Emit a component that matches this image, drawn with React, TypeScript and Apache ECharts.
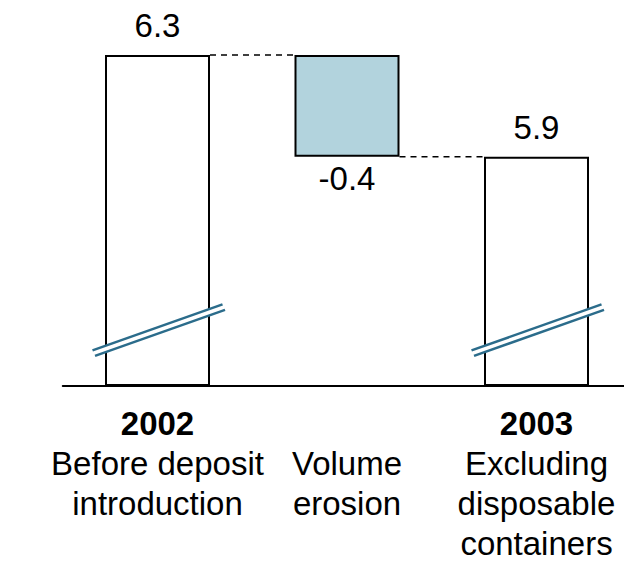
import React, { useEffect, useRef } from "react";
import * as echarts from "echarts";

const years = ["2002", "", "2003"];
const descriptions = [
  ["Before deposit", "introduction"],
  ["Volume", "erosion"],
  ["Excluding", "disposable", "containers"],
];
const values = [6.3, -0.4, 5.9];
const kinds = ["total", "delta", "total"];
const axisFloor = 5; // broken axis starts here
const axisTop = 6.3;
const breakLevel = 5.23;

const FONT = "'Liberation Sans', Arial, sans-serif";

export default function App() {
  const ref = useRef<HTMLDivElement>(null);
  useEffect(() => {
    if (!ref.current) return;
    const chart = echarts.init(ref.current, null, { renderer: "svg" });

    // waterfall geometry from values
    const bases: number[] = [];
    const heights: number[] = [];
    const levels: number[] = [];
    let running = 0;
    values.forEach((v, i) => {
      if (kinds[i] === "total") {
        bases.push(axisFloor);
        heights.push(v - axisFloor);
        running = v;
      } else {
        const next = running + v;
        bases.push(Math.min(running, next));
        heights.push(Math.abs(v));
        running = next;
      }
      levels.push(running);
    });

    const categories = years.map((y, i) => {
      const first = y ? `{b|${y}}` : `{n| }`;
      return [first, ...descriptions[i].map((d) => `{n|${d}}`)].join("\n");
    });

    const barWidth = 105;

    const connectorData = levels.slice(0, -1).map((lv, i) => [i, lv]);
    const breakData = kinds
      .map((k, i) => (k === "total" ? [i, breakLevel] : null))
      .filter((d) => d !== null);

    chart.setOption({
      animation: false,
      grid: { left: 62.75, right: 8.75, top: 55, bottom: 177 },
      xAxis: {
        type: "category",
        data: categories,
        axisLine: { show: true, lineStyle: { color: "#000", width: 2 } },
        axisTick: { show: false },
        axisLabel: {
          interval: 0,
          margin: 17,
          color: "#000",
          fontFamily: FONT,
          rich: {
            b: { fontSize: 33, fontWeight: "bold", lineHeight: 40, fontFamily: FONT, color: "#000" },
            n: { fontSize: 33, lineHeight: 40, fontFamily: FONT, color: "#000" },
          },
        },
      },
      yAxis: {
        type: "value",
        min: axisFloor,
        max: axisTop,
        show: false,
        splitLine: { show: false },
      },
      series: [
        {
          type: "bar",
          stack: "w",
          barWidth,
          data: bases,
          itemStyle: { color: "transparent" },
          silent: true,
        },
        {
          type: "bar",
          stack: "w",
          barWidth,
          data: heights.map((h, i) => ({
            value: h,
            itemStyle: {
              color: kinds[i] === "total" ? "#ffffff" : "#b2d3dd",
              borderColor: "#000",
              borderWidth: 2,
            },
            label: {
              show: true,
              position: kinds[i] === "total" ? "top" : "bottom",
              distance: kinds[i] === "total" ? 13 : 5,
            },
          })),
          label: {
            fontSize: 33,
            fontFamily: FONT,
            color: "#000",
            formatter: (p: any) => String(values[p.dataIndex]),
          },
          z: 2,
        },
        {
          type: "custom",
          data: connectorData,
          z: 3,
          renderItem: (params: any, api: any) => {
            const i = api.value(0);
            const lv = api.value(1);
            const p = api.coord([i, lv]);
            const w = api.size([1, 0])[0];
            return {
              type: "line",
              shape: { x1: p[0] + barWidth / 2, y1: p[1], x2: p[0] + w - barWidth / 2, y2: p[1] },
              style: { stroke: "#000", lineWidth: 1.5, lineDash: [6, 5] },
            };
          },
        },
        {
          type: "custom",
          data: breakData,
          z: 4,
          renderItem: (params: any, api: any) => {
            const i = api.value(0);
            const lv = api.value(1);
            const p = api.coord([i, lv]);
            const cx = p[0];
            const cy = p[1];
            const dx = 65;
            const dy = 23;
            const ox = 2.5;
            const oy = 5.5;
            return {
              type: "group",
              children: [
                {
                  type: "polygon",
                  shape: {
                    points: [
                      [cx - dx, cy + dy],
                      [cx + dx, cy - dy],
                      [cx + dx + ox, cy - dy + oy],
                      [cx - dx + ox, cy + dy + oy],
                    ],
                  },
                  style: { fill: "#fff" },
                },
                {
                  type: "line",
                  shape: { x1: cx - dx, y1: cy + dy, x2: cx + dx, y2: cy - dy },
                  style: { stroke: "#2b6c8b", lineWidth: 2.5 },
                },
                {
                  type: "line",
                  shape: { x1: cx - dx + ox, y1: cy + dy + oy, x2: cx + dx + ox, y2: cy - dy + oy },
                  style: { stroke: "#2b6c8b", lineWidth: 2.5 },
                },
              ],
            };
          },
        },
      ],
    });
    return () => chart.dispose();
  }, []);
  return (
    <div
      style={{
        position: "absolute",
        left: 0,
        top: 0,
        width: 624,
        height: 563,
        overflow: "hidden",
        background: "#fff",
      }}
    >
      <div ref={ref} style={{ width: 640, height: 563 }} />
    </div>
  );
}
